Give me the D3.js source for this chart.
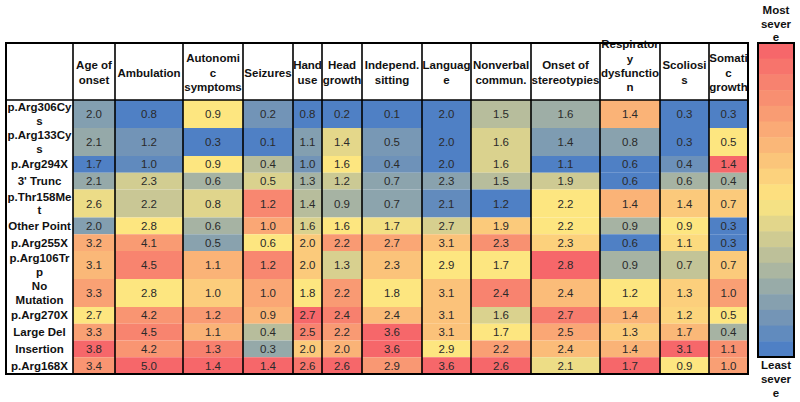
<!DOCTYPE html>
<html><head><meta charset="utf-8">
<script src="https://cdn.jsdelivr.net/npm/d3@7"></script>
<style>body{margin:0;background:#fff}svg{display:block}</style>
</head><body>
<svg id="c" width="800" height="402"></svg>
<script>
// ---------- data ----------
const columns = ["Age of\nonset", "Ambulation", "Autonomi\nc\nsymptoms", "Seizures", "Hand\nuse",
  "Head\ngrowth", "Independ.\nsitting", "Languag\ne", "Nonverbal\ncommun.", "Onset of\nstereotypies",
  "Respirator\ny\ndysfunctio\nn", "Scoliosi\ns", "Somati\nc\ngrowth"];
const rowLabels = ["p.Arg306Cy\ns", "p.Arg133Cy\ns", "p.Arg294X", "3' Trunc", "p.Thr158Me\nt",
  "Other Point", "p.Arg255X", "p.Arg106Tr\np", "No\nMutation", "p.Arg270X", "Large Del",
  "Insertion", "p.Arg168X"];
const values = [
  [2.0, 0.8, 0.9, 0.2, 0.8, 0.2, 0.1, 2.0, 1.5, 1.6, 1.4, 0.3, 0.3],
  [2.1, 1.2, 0.3, 0.1, 1.1, 1.4, 0.5, 2.0, 1.6, 1.4, 0.8, 0.3, 0.5],
  [1.7, 1.0, 0.9, 0.4, 1.0, 1.6, 0.4, 2.0, 1.6, 1.1, 0.6, 0.4, 1.4],
  [2.1, 2.3, 0.6, 0.5, 1.3, 1.2, 0.7, 2.3, 1.5, 1.9, 0.6, 0.6, 0.4],
  [2.6, 2.2, 0.8, 1.2, 1.4, 0.9, 0.7, 2.1, 1.2, 2.2, 1.4, 1.4, 0.7],
  [2.0, 2.8, 0.6, 1.0, 1.6, 1.6, 1.7, 2.7, 1.9, 2.2, 0.9, 0.9, 0.3],
  [3.2, 4.1, 0.5, 0.6, 2.0, 2.2, 2.7, 3.1, 2.3, 2.3, 0.6, 1.1, 0.3],
  [3.1, 4.5, 1.1, 1.2, 2.0, 1.3, 2.3, 2.9, 1.7, 2.8, 0.9, 0.7, 0.7],
  [3.3, 2.8, 1.0, 1.0, 1.8, 2.2, 1.8, 3.1, 2.4, 2.4, 1.2, 1.3, 1.0],
  [2.7, 4.2, 1.2, 0.9, 2.7, 2.4, 2.4, 3.1, 1.6, 2.7, 1.4, 1.2, 0.5],
  [3.3, 4.5, 1.1, 0.4, 2.5, 2.2, 3.6, 3.1, 1.7, 2.5, 1.3, 1.7, 0.4],
  [3.8, 4.2, 1.3, 0.3, 2.0, 2.0, 3.6, 2.9, 2.2, 2.4, 1.4, 3.1, 1.1],
  [3.4, 5.0, 1.4, 1.4, 2.6, 2.6, 2.9, 3.6, 2.6, 2.1, 1.7, 0.9, 1.0]
];
const legendTopLabel = "Most\nsever\ne";
const legendBottomLabel = "Least\nsever\ne";

// ---------- layout / style ----------
const colWidths = [67, 42, 68, 60, 50, 29, 40, 60, 49, 60, 69, 60, 49, 39]; // first = label column
const tableX = 6, tableY = 43, headerH = 57;
const rowH = n => n === 1 ? 16.75 : 28;
const lowC = "#4F80C5", midC = "#FDE680", highC = "#F6676A";
const font = "'Liberation Sans', Arial, Helvetica, sans-serif";
const svg = d3.select("#c");

const xEdges = [tableX, ...Array.from(d3.cumsum(colWidths), d => tableX + d)];
const rowLines = rowLabels.map(s => s.split("\n").length);
const yEdges = [tableY + headerH, ...Array.from(d3.cumsum(rowLines.map(rowH)), d => tableY + headerH + d)];
const tableR = xEdges[xEdges.length - 1], tableB = yEdges[yEdges.length - 1];

// per-column colour scales (3-colour: min / median / max)
const colScales = columns.map((c, j) => {
  const col = values.map(r => r[j]);
  return d3.scaleLinear().domain([d3.min(col), d3.median(col), d3.max(col)])
    .range([lowC, midC, highC]).interpolate(d3.interpolateRgb);
});

// cells
const g = svg.append("g");
values.forEach((row, i) => {
  row.forEach((v, j) => {
    const x0 = xEdges[j + 1], x1 = xEdges[j + 2], y0 = yEdges[i], y1 = yEdges[i + 1];
    g.append("rect").attr("x", x0).attr("y", y0).attr("width", x1 - x0).attr("height", y1 - y0)
      .attr("fill", colScales[j](v));
    g.append("text").attr("x", (x0 + x1) / 2).attr("y", (y0 + y1) / 2 + 4)
      .attr("text-anchor", "middle").attr("font-family", font).attr("font-size", 11.5)
      .attr("fill", "#2a2a2a").text(d3.format(".1f")(v));
  });
});

function multiline(sel, text, cx, cy, lh, maxLast) {
  const lines = text.split("\n");
  let y0 = cy - (lines.length - 1) * lh / 2;
  if (maxLast !== undefined && y0 + (lines.length - 1) * lh > maxLast) y0 = maxLast - (lines.length - 1) * lh;
  const t = sel.append("text").attr("text-anchor", "middle").attr("font-family", font)
    .attr("font-size", 11.5).attr("font-weight", "bold").attr("fill", "#111");
  lines.forEach((l, k) => t.append("tspan").attr("x", cx).attr("y", y0 + k * lh + 4).text(l));
  return t;
}

// row labels
rowLabels.forEach((lab, i) => multiline(g, lab, (xEdges[0] + xEdges[1]) / 2, (yEdges[i] + yEdges[i + 1]) / 2, 13.4));
// headers
const hc = tableY + headerH / 2 + 1;
columns.forEach((lab, j) => multiline(g, lab, (xEdges[j + 1] + xEdges[j + 2]) / 2, hc, 14.2, tableY + headerH - 13));

// grid lines
const lines = svg.append("g").attr("stroke", "#000");
xEdges.slice(1, -1).forEach(x => lines.append("line").attr("x1", x).attr("x2", x).attr("y1", tableY).attr("y2", tableB).attr("stroke-width", 1.6));
lines.append("line").attr("x1", tableX).attr("x2", tableR).attr("y1", tableY + headerH).attr("y2", tableY + headerH).attr("stroke-width", 1.6);
lines.append("rect").attr("x", tableX).attr("y", tableY).attr("width", tableR - tableX).attr("height", tableB - tableY)
  .attr("fill", "none").attr("stroke-width", 2);

// legend
const legX = 758, legW = 36, legY = 43, legH = 314, nBands = 20;
const legScale = d3.scaleLinear().domain([0, 0.5, 1]).range([highC, midC, lowC]).interpolate(d3.interpolateRgb);
const bandY = d3.scaleBand().domain(d3.range(nBands)).range([legY, legY + legH]);
const lg = svg.append("g");
d3.range(nBands).forEach(k => lg.append("rect").attr("x", legX).attr("y", bandY(k)).attr("width", legW)
  .attr("height", bandY.bandwidth() + 0.5).attr("fill", legScale(k / (nBands - 1))));
lg.append("rect").attr("x", legX).attr("y", legY).attr("width", legW).attr("height", legH)
  .attr("fill", "none").attr("stroke", "#000").attr("stroke-width", 2);
multiline(lg, legendTopLabel, legX + legW / 2, 23.5, 13.5);
multiline(lg, legendBottomLabel, legX + legW / 2, 379, 14);
</script>
</body></html>
